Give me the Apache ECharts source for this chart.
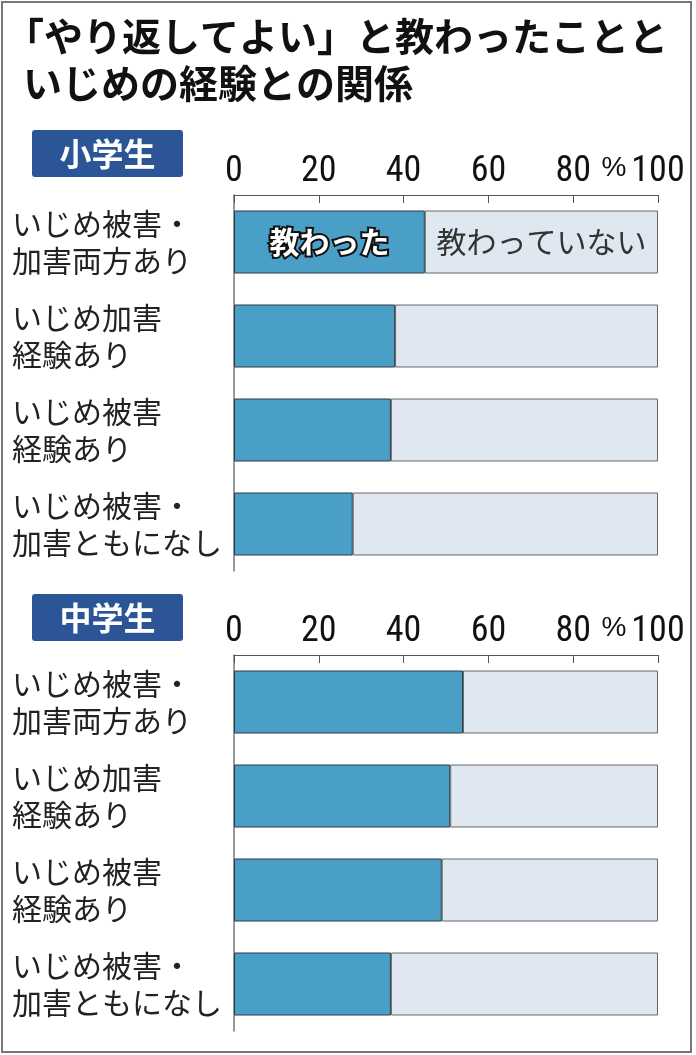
<!DOCTYPE html>
<html><head><meta charset="utf-8">
<script src="https://cdn.jsdelivr.net/npm/echarts@6/dist/echarts.min.js"></script>
<style>html,body{margin:0;padding:0;background:#fff}#c{width:696px;height:1055px}</style>
</head><body><div id="c"></div>
<script>
const categories = ['いじめ被害・\n加害両方あり', 'いじめ加害\n経験あり', 'いじめ被害\n経験あり', 'いじめ被害・\n加害ともになし'];
const elemTaught = [45, 38, 37, 28];
const elemNotTaught = [55, 62, 63, 72];
const juniorTaught = [54, 51, 49, 37];
const juniorNotTaught = [46, 49, 51, 63];
const groupNames = ['小学生', '中学生'];
const seriesNames = ['教わった', '教わっていない'];
const titleLines = ['「やり返してよい」と教わったことと', 'いじめの経験との関係'];
const unitLabel = '%';

const JP = "'Noto Sans CJK JP', 'Noto Sans', sans-serif";
const NUM = "'Roboto Condensed', 'DejaVu Sans Condensed', 'Liberation Sans', sans-serif";
const BLUE = '#4a9fc7', LIGHT = '#dfe8f0', BADGE = '#2c5597';

const chart = echarts.init(document.getElementById('c'), null, {renderer: 'canvas'});
const grids = [
  {left: 234, right: 38, top: 195, height: 376},
  {left: 234, right: 38, top: 655, height: 376}
];
function xAxis(i) {
  return {
    gridIndex: i, type: 'value', position: 'top', min: 0, max: 100, interval: 20,
    axisLine: {show: true, lineStyle: {color: '#555', width: 1}},
    axisTick: {show: true, inside: true, length: 8, lineStyle: {color: '#555'}},
    splitLine: {show: false},
    axisLabel: {fontFamily: NUM, fontSize: 36, color: '#111', margin: 5}
  };
}
function yAxis(i) {
  return {
    gridIndex: i, type: 'category', inverse: true, data: categories,
    axisLine: {show: true, lineStyle: {color: '#777', width: 1.5}},
    axisTick: {show: false},
    axisLabel: {align: 'left', margin: 222, fontFamily: JP, fontSize: 30, lineHeight: 37, color: '#222'}
  };
}
function taughtData(arr, withLabel) {
  return arr.map((v, k) => (withLabel && k === 0) ? {
    value: v,
    label: {show: true, position: 'inside', formatter: seriesNames[0], fontFamily: JP, fontSize: 30,
      fontWeight: 'bold', color: '#fff', textBorderColor: '#111', textBorderWidth: 4}
  } : v);
}
function notData(arr, withLabel) {
  return arr.map((v, k) => (withLabel && k === 0) ? {
    value: v,
    label: {show: true, position: 'inside', formatter: seriesNames[1], fontFamily: JP, fontSize: 30,
      color: '#333'}
  } : v);
}
const itemBlue = {color: BLUE, borderColor: '#2a3a44', borderWidth: 1};
const itemLight = {color: LIGHT, borderColor: '#666', borderWidth: 1};
const series = [
  {name: seriesNames[0], type: 'bar', stack: 'a', xAxisIndex: 0, yAxisIndex: 0, barWidth: 63, itemStyle: itemBlue, data: taughtData(elemTaught, true), silent: true},
  {name: seriesNames[1], type: 'bar', stack: 'a', xAxisIndex: 0, yAxisIndex: 0, barWidth: 63, itemStyle: itemLight, data: notData(elemNotTaught, true), silent: true},
  {name: seriesNames[0], type: 'bar', stack: 'b', xAxisIndex: 1, yAxisIndex: 1, barWidth: 63, itemStyle: itemBlue, data: taughtData(juniorTaught, false), silent: true},
  {name: seriesNames[1], type: 'bar', stack: 'b', xAxisIndex: 1, yAxisIndex: 1, barWidth: 63, itemStyle: itemLight, data: notData(juniorNotTaught, false), silent: true}
];
function badge(y, text) {
  return {
    type: 'group', left: 32, top: y,
    children: [
      {type: 'rect', shape: {x: 0, y: 0, width: 151, height: 47, r: 3}, style: {fill: BADGE}},
      {type: 'text', x: 75.5, y: 24, style: {text: text, fontFamily: JP, fontWeight: 'bold', fontSize: 32, fill: '#fff', align: 'center', verticalAlign: 'middle'}}
    ]
  };
}
function pct(y) {
  return {type: 'text', x: 614, y: y, style: {text: unitLabel, fontFamily: "'Liberation Sans', sans-serif", fontSize: 28, fill: '#111', align: 'center', verticalAlign: 'middle'}};
}
const titleStyle = {fontFamily: JP, fontSize: 39, fontWeight: 'bold', color: '#111', lineHeight: 47};
chart.setOption({
  animation: false,
  backgroundColor: '#fff',
  title: [
    {text: titleLines[0], left: 5, top: 13, padding: 0, textStyle: titleStyle},
    {text: titleLines[1], left: 23, top: 60, padding: 0, textStyle: titleStyle}
  ],
  grid: grids,
  xAxis: [xAxis(0), xAxis(1)],
  yAxis: [yAxis(0), yAxis(1)],
  series: series,
  graphic: [
    {type: 'rect', shape: {x: 2, y: 2, width: 689, height: 1050}, style: {fill: 'none', stroke: '#777', lineWidth: 2}, z: 100},
    badge(130, groupNames[0]),
    badge(594, groupNames[1]),
    pct(168),
    pct(628)
  ]
});
</script>
</body></html>
